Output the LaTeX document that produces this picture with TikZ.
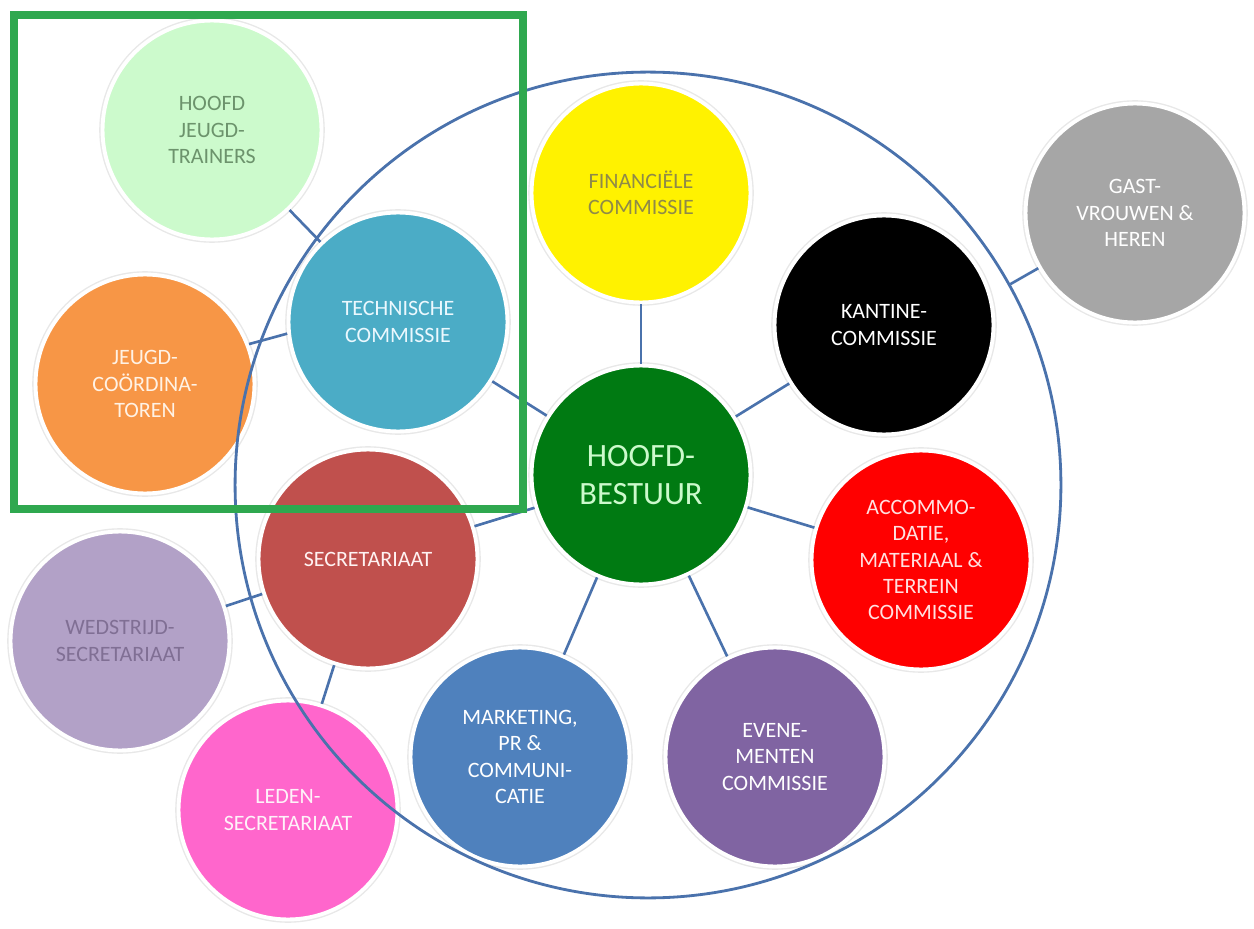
\documentclass[tikz,border=0pt]{standalone}
\usepackage{fontspec}
\setmainfont{Carlito}
\usetikzlibrary{shapes.geometric}
\definecolor{lijn}{HTML}{4A72AC}
\definecolor{kader}{HTML}{2FA84F}
\definecolor{lichtgroen}{HTML}{CCFACC}
\definecolor{aqua}{HTML}{4BACC6}
\definecolor{oranje}{HTML}{F79646}
\definecolor{grijs}{HTML}{A6A6A6}
\definecolor{donkergroen}{HTML}{007A12}
\definecolor{steenrood}{HTML}{C0504D}
\definecolor{lila}{HTML}{B2A1C7}
\definecolor{roze}{HTML}{FF66CC}
\definecolor{staalblauw}{HTML}{4F81BD}
\definecolor{paars}{HTML}{8064A2}
\tikzset{
	ring/.style={
		circle,
		draw=lijn,
		line width=1.6pt,
		inner sep=0pt
	}
}

\begin{document}
\begin{tikzpicture}[x=0.02cm, y=-0.02cm]
		\tikzstyle{main}=[circle, minimum size = 4.38cm, inner sep=0pt, align=center, text=white, draw=white, line width=2.2pt, preaction={draw=black!9, line width=3.8pt}, font=\fontsize{12.5}{15}\selectfont]
		\tikzstyle{connect}=[draw=lijn, line width=1.5pt]
		\useasboundingbox (0,0) rectangle (1254,929);
		\node[main, fill = donkergroen, text=lichtgroen, font=\fontsize{18.5}{22}\selectfont] (hb) at (641,475) {HOOFD-\\BESTUUR};
		\node[main, fill = yellow, text=black!50!yellow] (fin) at (641,193) {FINANCIËLE\\COMMISSIE};
		\node[main, fill = black] (kant) at (884,325) {KANTINE-\\COMMISSIE};
		\node[main, fill = red, text=red!12] (acc) at (921,560) {ACCOMMO-\\DATIE,\\MATERIAAL \&\\TERREIN\\COMMISSIE};
		\node[main, fill = paars] (even) at (775,757) {EVENE-\\MENTEN\\COMMISSIE};
		\node[main, fill = staalblauw] (mark) at (520,757) {MARKETING,\\PR \&\\COMMUNI-\\CATIE};
		\node[main, fill = steenrood, text=red!5] (secr) at (368,559) {SECRETARIAAT};
		\node[main, fill = aqua, text=cyan!8] (tech) at (398,322) {TECHNISCHE\\COMMISSIE};
		\node[main, fill = lichtgroen, text=green!15!gray] (hjt) at (212,130) {HOOFD\\JEUGD-\\TRAINERS};
		\node[main, fill = oranje, text=orange!10] (jc) at (145,384) {JEUGD-\\COÖRDINA-\\TOREN};
		\node[main, fill = lila, text=paars!60!gray] (wed) at (120,641) {WEDSTRIJD-\\SECRETARIAAT};
		\node[main, fill = roze, text=magenta!5] (led) at (288,810) {LEDEN-\\SECRETARIAAT};
		\node[main, fill = grijs] (gast) at (1135,213) {GAST-\\VROUWEN \&\\HEREN};
		
		\path 
		(hb) edge [connect] (fin)
		(hb) edge [connect] (kant)
		(hb) edge [connect] (acc)
		(hb) edge [connect] (even)
		(hb) edge [connect] (mark)
		(hb) edge [connect] (secr)
		(hb) edge [connect] (tech)
		(tech) edge [connect] (hjt)
		(tech.186) edge [connect] (jc.21)
		(secr) edge [connect] (wed)
		(secr) edge [connect] (led)
		;
		
		\node[ring, minimum size=16.52cm] (kring) at (648,485) {};
		\path (kring.29) edge [connect] (gast);
		
		\draw [kader, line width=4pt] (14,15) rectangle (523,509);
		
		\end{tikzpicture}
\end{document}
